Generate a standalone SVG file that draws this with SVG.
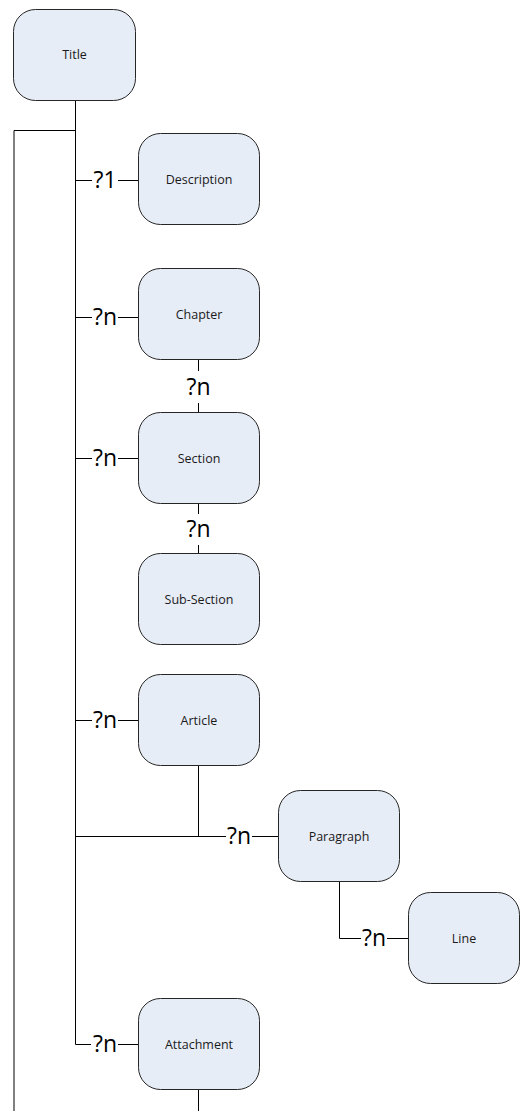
<svg xmlns="http://www.w3.org/2000/svg" width="520" height="1111" viewBox="0 0 520 1111">
  <style>
    .box { fill: #e7edf7; stroke: #262626; stroke-width: 1; }
    .lbl { font-family: "Open Sans", "Noto Sans", sans-serif; font-size: 12.5px; fill: #1a1a1a; text-anchor: middle; }
    .card { font-family: "Open Sans", "Noto Sans", sans-serif; font-size: 23px; fill: #000000; text-anchor: middle; }
    .wire { fill: none; stroke: #000000; stroke-width: 1; }
  </style>
  <rect width="520" height="1111" fill="#ffffff"/>

  <!-- connectors -->
  <g id="connectors">
    <!-- outer return line -->
    <path class="wire" d="M75.5,130.5 H14 V1111"/>
    <!-- main trunk from Title -->
    <path class="wire" d="M75.5,101 V1044.5 H91"/>
    <!-- Description -->
    <path class="wire" d="M75.5,180.5 H92 M118,180.5 H138"/>
    <text class="card" x="105" y="187.5">?1</text>
    <!-- Chapter -->
    <path class="wire" d="M75.5,317.5 H92 M118,317.5 H138"/>
    <text class="card" x="105" y="324.5">?n</text>
    <!-- Chapter to Section -->
    <path class="wire" d="M198.5,360 V371 M198.5,403 V412"/>
    <text class="card" x="198.5" y="395">?n</text>
    <!-- Section -->
    <path class="wire" d="M75.5,458.5 H92 M118,458.5 H138"/>
    <text class="card" x="105" y="465.5">?n</text>
    <!-- Section to Sub-Section -->
    <path class="wire" d="M198.5,503 V514 M198.5,545 V553"/>
    <text class="card" x="198.5" y="537">?n</text>
    <!-- Article -->
    <path class="wire" d="M75.5,720.5 H92 M118,720.5 H138"/>
    <text class="card" x="105" y="727.5">?n</text>
    <!-- Article / trunk to Paragraph -->
    <path class="wire" d="M198.5,766 V836.5 M75.5,836.5 H226 M252,836.5 H278"/>
    <text class="card" x="239" y="843.5">?n</text>
    <!-- Paragraph to Line -->
    <path class="wire" d="M339.5,881 V938.5 H361 M387,938.5 H408"/>
    <text class="card" x="374" y="945.5">?n</text>
    <!-- Attachment -->
    <path class="wire" d="M118,1044.5 H138"/>
    <text class="card" x="105" y="1051.5">?n</text>
    <!-- Attachment continues down -->
    <path class="wire" d="M198.5,1090 V1111"/>
  </g>

  <g id="title">
    <rect class="box" x="13.5" y="9.5" width="122" height="91" rx="22"/>
    <text class="lbl" x="74.5" y="59">Title</text>
  </g>
  <g id="description">
    <rect class="box" x="138.5" y="133.5" width="121" height="91" rx="22"/>
    <text class="lbl" x="199" y="184">Description</text>
  </g>
  <g id="chapter">
    <rect class="box" x="138.5" y="268.5" width="121" height="91" rx="22"/>
    <text class="lbl" x="199" y="319">Chapter</text>
  </g>
  <g id="section">
    <rect class="box" x="138.5" y="412.5" width="121" height="91" rx="22"/>
    <text class="lbl" x="199" y="463">Section</text>
  </g>
  <g id="sub-section">
    <rect class="box" x="138.5" y="553.5" width="121" height="91" rx="22"/>
    <text class="lbl" x="199" y="604">Sub-Section</text>
  </g>
  <g id="article">
    <rect class="box" x="138.5" y="674.5" width="121" height="91" rx="22"/>
    <text class="lbl" x="199" y="725">Article</text>
  </g>
  <g id="paragraph">
    <rect class="box" x="278.5" y="790.5" width="121" height="91" rx="22"/>
    <text class="lbl" x="339" y="841">Paragraph</text>
  </g>
  <g id="line">
    <rect class="box" x="408.5" y="892.5" width="111" height="91" rx="22"/>
    <text class="lbl" x="464" y="943">Line</text>
  </g>
  <g id="attachment">
    <rect class="box" x="138.5" y="998.5" width="121" height="91" rx="22"/>
    <text class="lbl" x="199" y="1049">Attachment</text>
  </g>
</svg>
